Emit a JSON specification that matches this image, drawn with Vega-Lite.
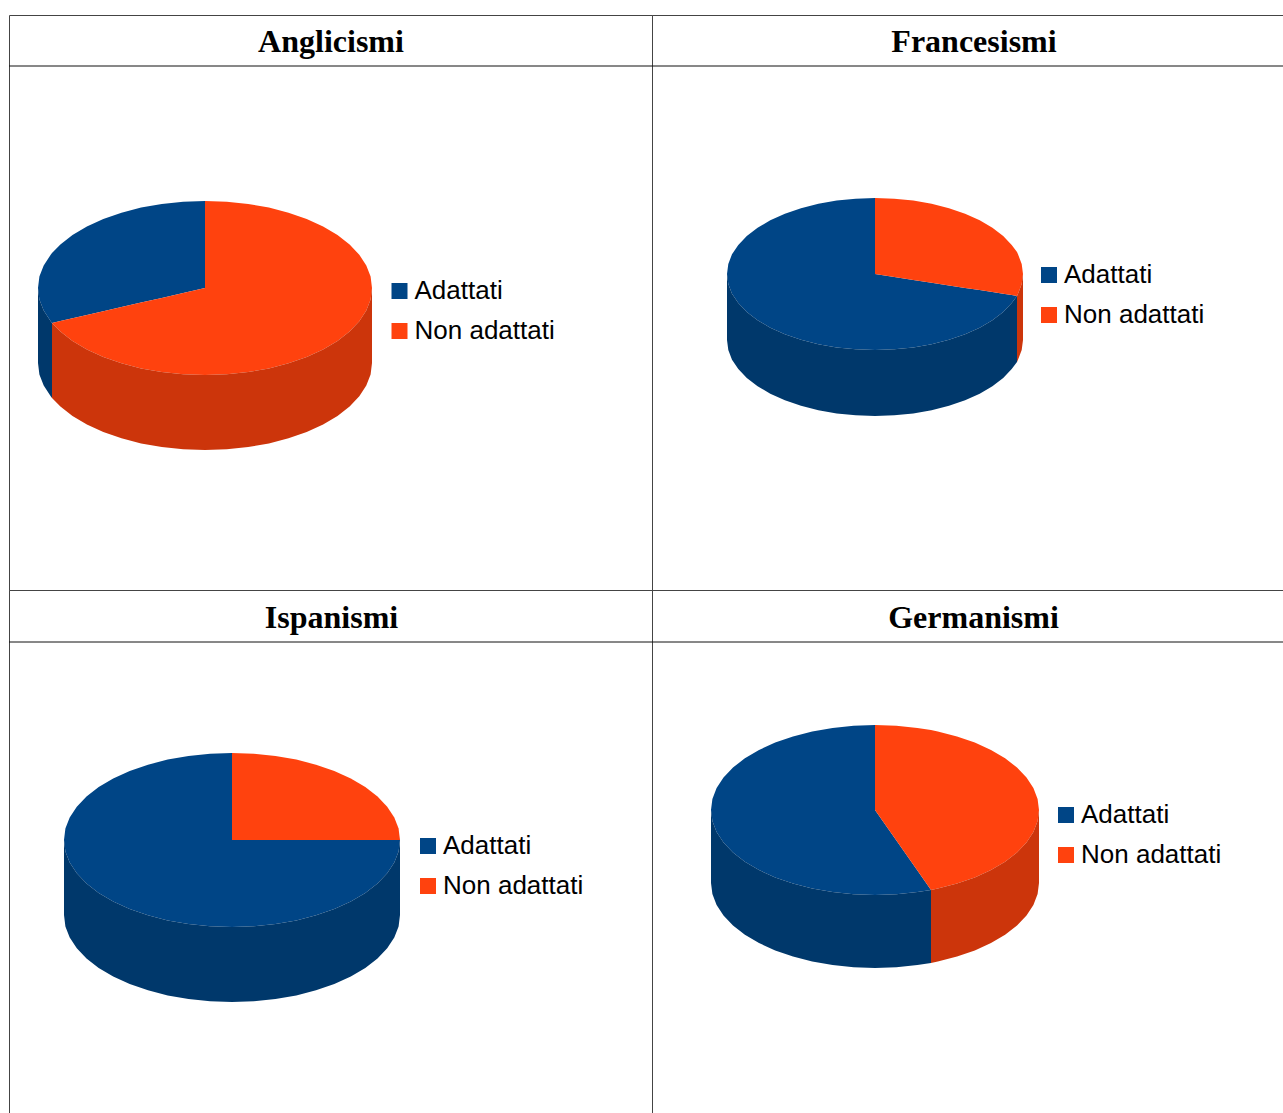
{
  "$schema": "https://vega.github.io/schema/vega-lite/v6.json",
  "padding": {"left": 8, "top": 14, "right": 0, "bottom": 0},
  "background": "white",
  "bounds": "flush",
  "columns": 2,
  "spacing": 0,
  "resolve": {"scale": {"color": "independent", "fill": "independent"}, "legend": {"color": "independent"}},
  "config": {
    "axis": {"disable": true},
    "view": {"stroke": "#444444", "strokeWidth": 1},
    "text": {"font": "Liberation Serif", "fontWeight": "bold", "fontSize": 32, "color": "#000000", "baseline": "middle", "align": "center"},
    "rule": {"color": "#111111", "strokeWidth": 1}
  },
  "datasets": {
    "anglicismi": [
      {"serie":"Adattati","x":-167,"alto":0,"basso":0,"fondo":-75},
      {"serie":"Adattati","x":-165.6,"alto":11.4,"basso":-11.4,"fondo":-86.4},
      {"serie":"Adattati","x":-161.3,"alto":22.5,"basso":-22.5,"fondo":-97.5},
      {"serie":"Adattati","x":-154.3,"alto":33.3,"basso":-33.3,"fondo":-108.3},
      {"serie":"Adattati","x":-153,"alto":34.9,"basso":-34.9,"fondo":-109.9},
      {"serie":"Adattati","x":-144.6,"alto":43.5,"basso":-33.0},
      {"serie":"Adattati","x":-132.5,"alto":53,"basso":-30.2},
      {"serie":"Adattati","x":-118.1,"alto":61.5,"basso":-26.9},
      {"serie":"Adattati","x":-101.7,"alto":69,"basso":-23.2},
      {"serie":"Adattati","x":-83.5,"alto":75.3,"basso":-19},
      {"serie":"Adattati","x":-63.9,"alto":80.4,"basso":-14.6},
      {"serie":"Adattati","x":-43.2,"alto":84,"basso":-9.9},
      {"serie":"Adattati","x":-21.8,"alto":86.3,"basso":-5},
      {"serie":"Adattati","x":0,"alto":87,"basso":0},
      {"serie":"Non adattati","x":-153,"alto":-34.9,"basso":-34.9,"fondo":-109.9},
      {"serie":"Non adattati","x":-144.6,"alto":-33,"basso":-43.5,"fondo":-118.5},
      {"serie":"Non adattati","x":-132.5,"alto":-30.2,"basso":-53,"fondo":-128},
      {"serie":"Non adattati","x":-118.1,"alto":-26.9,"basso":-61.5,"fondo":-136.5},
      {"serie":"Non adattati","x":-101.7,"alto":-23.2,"basso":-69,"fondo":-144},
      {"serie":"Non adattati","x":-83.5,"alto":-19,"basso":-75.3,"fondo":-150.3},
      {"serie":"Non adattati","x":-63.9,"alto":-14.6,"basso":-80.4,"fondo":-155.4},
      {"serie":"Non adattati","x":-43.2,"alto":-9.9,"basso":-84,"fondo":-159},
      {"serie":"Non adattati","x":-21.8,"alto":-5,"basso":-86.3,"fondo":-161.3},
      {"serie":"Non adattati","x":0,"alto":0,"basso":-87,"fondo":-162},
      {"serie":"Non adattati","x":0,"alto":87,"basso":-87,"fondo":-162},
      {"serie":"Non adattati","x":21.8,"alto":86.3,"basso":-86.3,"fondo":-161.3},
      {"serie":"Non adattati","x":43.2,"alto":84,"basso":-84,"fondo":-159},
      {"serie":"Non adattati","x":63.9,"alto":80.4,"basso":-80.4,"fondo":-155.4},
      {"serie":"Non adattati","x":83.5,"alto":75.3,"basso":-75.3,"fondo":-150.3},
      {"serie":"Non adattati","x":101.7,"alto":69,"basso":-69,"fondo":-144},
      {"serie":"Non adattati","x":118.1,"alto":61.5,"basso":-61.5,"fondo":-136.5},
      {"serie":"Non adattati","x":132.5,"alto":53,"basso":-53,"fondo":-128},
      {"serie":"Non adattati","x":144.6,"alto":43.5,"basso":-43.5,"fondo":-118.5},
      {"serie":"Non adattati","x":154.3,"alto":33.3,"basso":-33.3,"fondo":-108.3},
      {"serie":"Non adattati","x":161.3,"alto":22.5,"basso":-22.5,"fondo":-97.5},
      {"serie":"Non adattati","x":165.6,"alto":11.4,"basso":-11.4,"fondo":-86.4},
      {"serie":"Non adattati","x":167,"alto":0,"basso":0,"fondo":-75}
    ],
    "francesismi": [
      {"serie":"Adattati","x":-148,"alto":0,"basso":0,"fondo":-66},
      {"serie":"Adattati","x":-146.7,"alto":9.9,"basso":-9.9,"fondo":-75.9},
      {"serie":"Adattati","x":-143,"alto":19.7,"basso":-19.7,"fondo":-85.7},
      {"serie":"Adattati","x":-136.7,"alto":29.1,"basso":-29.1,"fondo":-95.1},
      {"serie":"Adattati","x":-128.2,"alto":38,"basso":-38,"fondo":-104},
      {"serie":"Adattati","x":-117.4,"alto":46.3,"basso":-46.3,"fondo":-112.3},
      {"serie":"Adattati","x":-104.7,"alto":53.7,"basso":-53.7,"fondo":-119.7},
      {"serie":"Adattati","x":-90.1,"alto":60.3,"basso":-60.3,"fondo":-126.3},
      {"serie":"Adattati","x":-74,"alto":65.8,"basso":-65.8,"fondo":-131.8},
      {"serie":"Adattati","x":-56.6,"alto":70.2,"basso":-70.2,"fondo":-136.2},
      {"serie":"Adattati","x":-38.3,"alto":73.4,"basso":-73.4,"fondo":-139.4},
      {"serie":"Adattati","x":-19.3,"alto":75.3,"basso":-75.3,"fondo":-141.3},
      {"serie":"Adattati","x":0,"alto":76,"basso":-76,"fondo":-142},
      {"serie":"Adattati","x":0,"alto":0,"basso":-76,"fondo":-142},
      {"serie":"Adattati","x":19.3,"alto":-3,"basso":-75.3,"fondo":-141.3},
      {"serie":"Adattati","x":38.3,"alto":-5.9,"basso":-73.4,"fondo":-139.4},
      {"serie":"Adattati","x":56.6,"alto":-8.7,"basso":-70.2,"fondo":-136.2},
      {"serie":"Adattati","x":74,"alto":-11.4,"basso":-65.8,"fondo":-131.8},
      {"serie":"Adattati","x":90.1,"alto":-13.9,"basso":-60.3,"fondo":-126.3},
      {"serie":"Adattati","x":104.7,"alto":-16.1,"basso":-53.7,"fondo":-119.7},
      {"serie":"Adattati","x":117.4,"alto":-18.1,"basso":-46.3,"fondo":-112.3},
      {"serie":"Adattati","x":128.2,"alto":-19.8,"basso":-38,"fondo":-104},
      {"serie":"Adattati","x":136.7,"alto":-21.1,"basso":-29.1,"fondo":-95.1},
      {"serie":"Adattati","x":142,"alto":-21.9,"basso":-21.9,"fondo":-87.9},
      {"serie":"Non adattati","x":0,"alto":76,"basso":0},
      {"serie":"Non adattati","x":19.3,"alto":75.3,"basso":-3},
      {"serie":"Non adattati","x":38.3,"alto":73.4,"basso":-5.9},
      {"serie":"Non adattati","x":56.6,"alto":70.2,"basso":-8.7},
      {"serie":"Non adattati","x":74,"alto":65.8,"basso":-11.4},
      {"serie":"Non adattati","x":90.1,"alto":60.3,"basso":-13.9},
      {"serie":"Non adattati","x":104.7,"alto":53.7,"basso":-16.1},
      {"serie":"Non adattati","x":117.4,"alto":46.3,"basso":-18.1},
      {"serie":"Non adattati","x":128.2,"alto":38,"basso":-19.8},
      {"serie":"Non adattati","x":136.7,"alto":29.1,"basso":-21.1},
      {"serie":"Non adattati","x":142,"alto":21.9,"basso":-21.9,"fondo":-87.9},
      {"serie":"Non adattati","x":143,"alto":19.7,"basso":-19.7,"fondo":-85.7},
      {"serie":"Non adattati","x":146.7,"alto":9.9,"basso":-9.9,"fondo":-75.9},
      {"serie":"Non adattati","x":148,"alto":0,"basso":0,"fondo":-66}
    ],
    "ispanismi": [
      {"serie":"Adattati","x":-168,"alto":0,"basso":0,"fondo":-75},
      {"serie":"Adattati","x":-166.6,"alto":11.4,"basso":-11.4,"fondo":-86.4},
      {"serie":"Adattati","x":-162.3,"alto":22.5,"basso":-22.5,"fondo":-97.5},
      {"serie":"Adattati","x":-155.2,"alto":33.3,"basso":-33.3,"fondo":-108.3},
      {"serie":"Adattati","x":-145.5,"alto":43.5,"basso":-43.5,"fondo":-118.5},
      {"serie":"Adattati","x":-133.3,"alto":53,"basso":-53,"fondo":-128},
      {"serie":"Adattati","x":-118.8,"alto":61.5,"basso":-61.5,"fondo":-136.5},
      {"serie":"Adattati","x":-102.3,"alto":69,"basso":-69,"fondo":-144},
      {"serie":"Adattati","x":-84,"alto":75.3,"basso":-75.3,"fondo":-150.3},
      {"serie":"Adattati","x":-64.3,"alto":80.4,"basso":-80.4,"fondo":-155.4},
      {"serie":"Adattati","x":-43.5,"alto":84,"basso":-84,"fondo":-159},
      {"serie":"Adattati","x":-21.9,"alto":86.3,"basso":-86.3,"fondo":-161.3},
      {"serie":"Adattati","x":0,"alto":87,"basso":-87,"fondo":-162},
      {"serie":"Adattati","x":0,"alto":0,"basso":-87,"fondo":-162},
      {"serie":"Adattati","x":21.9,"alto":0,"basso":-86.3,"fondo":-161.3},
      {"serie":"Adattati","x":43.5,"alto":0,"basso":-84,"fondo":-159},
      {"serie":"Adattati","x":64.3,"alto":0,"basso":-80.4,"fondo":-155.4},
      {"serie":"Adattati","x":84,"alto":0,"basso":-75.3,"fondo":-150.3},
      {"serie":"Adattati","x":102.3,"alto":0,"basso":-69,"fondo":-144},
      {"serie":"Adattati","x":118.8,"alto":0,"basso":-61.5,"fondo":-136.5},
      {"serie":"Adattati","x":133.3,"alto":0,"basso":-53,"fondo":-128},
      {"serie":"Adattati","x":145.5,"alto":0,"basso":-43.5,"fondo":-118.5},
      {"serie":"Adattati","x":155.2,"alto":0,"basso":-33.3,"fondo":-108.3},
      {"serie":"Adattati","x":162.3,"alto":0,"basso":-22.5,"fondo":-97.5},
      {"serie":"Adattati","x":166.6,"alto":0,"basso":-11.4,"fondo":-86.4},
      {"serie":"Adattati","x":168,"alto":0,"basso":0,"fondo":-75},
      {"serie":"Non adattati","x":0,"alto":87,"basso":0},
      {"serie":"Non adattati","x":21.9,"alto":86.3,"basso":0},
      {"serie":"Non adattati","x":43.5,"alto":84,"basso":0},
      {"serie":"Non adattati","x":64.3,"alto":80.4,"basso":0},
      {"serie":"Non adattati","x":84,"alto":75.3,"basso":0},
      {"serie":"Non adattati","x":102.3,"alto":69,"basso":0},
      {"serie":"Non adattati","x":118.8,"alto":61.5,"basso":0},
      {"serie":"Non adattati","x":133.3,"alto":53,"basso":0},
      {"serie":"Non adattati","x":145.5,"alto":43.5,"basso":0},
      {"serie":"Non adattati","x":155.2,"alto":33.3,"basso":0},
      {"serie":"Non adattati","x":162.3,"alto":22.5,"basso":0},
      {"serie":"Non adattati","x":166.6,"alto":11.4,"basso":0},
      {"serie":"Non adattati","x":168,"alto":0,"basso":0}
    ],
    "germanismi": [
      {"serie":"Adattati","x":-164,"alto":0,"basso":0,"fondo":-73},
      {"serie":"Adattati","x":-162.6,"alto":11.1,"basso":-11.1,"fondo":-84.1},
      {"serie":"Adattati","x":-158.4,"alto":22,"basso":-22,"fondo":-95},
      {"serie":"Adattati","x":-151.5,"alto":32.5,"basso":-32.5,"fondo":-105.5},
      {"serie":"Adattati","x":-142,"alto":42.5,"basso":-42.5,"fondo":-115.5},
      {"serie":"Adattati","x":-130.1,"alto":51.7,"basso":-51.7,"fondo":-124.7},
      {"serie":"Adattati","x":-116,"alto":60.1,"basso":-60.1,"fondo":-133.1},
      {"serie":"Adattati","x":-99.8,"alto":67.4,"basso":-67.4,"fondo":-140.4},
      {"serie":"Adattati","x":-82,"alto":73.6,"basso":-73.6,"fondo":-146.6},
      {"serie":"Adattati","x":-62.8,"alto":78.5,"basso":-78.5,"fondo":-151.5},
      {"serie":"Adattati","x":-42.4,"alto":82.1,"basso":-82.1,"fondo":-155.1},
      {"serie":"Adattati","x":-21.4,"alto":84.3,"basso":-84.3,"fondo":-157.3},
      {"serie":"Adattati","x":0,"alto":85,"basso":-85,"fondo":-158},
      {"serie":"Adattati","x":0,"alto":0,"basso":-85,"fondo":-158},
      {"serie":"Adattati","x":21.4,"alto":-30.5,"basso":-84.3,"fondo":-157.3},
      {"serie":"Adattati","x":42.4,"alto":-60.5,"basso":-82.1,"fondo":-155.1},
      {"serie":"Adattati","x":56,"alto":-79.9,"basso":-79.9,"fondo":-152.9},
      {"serie":"Non adattati","x":0,"alto":85,"basso":0},
      {"serie":"Non adattati","x":21.4,"alto":84.3,"basso":-30.5},
      {"serie":"Non adattati","x":42.4,"alto":82.1,"basso":-60.5},
      {"serie":"Non adattati","x":56,"alto":79.9,"basso":-79.9,"fondo":-152.9},
      {"serie":"Non adattati","x":62.8,"alto":78.5,"basso":-78.5,"fondo":-151.5},
      {"serie":"Non adattati","x":82,"alto":73.6,"basso":-73.6,"fondo":-146.6},
      {"serie":"Non adattati","x":99.8,"alto":67.4,"basso":-67.4,"fondo":-140.4},
      {"serie":"Non adattati","x":116,"alto":60.1,"basso":-60.1,"fondo":-133.1},
      {"serie":"Non adattati","x":130.1,"alto":51.7,"basso":-51.7,"fondo":-124.7},
      {"serie":"Non adattati","x":142,"alto":42.5,"basso":-42.5,"fondo":-115.5},
      {"serie":"Non adattati","x":151.5,"alto":32.5,"basso":-32.5,"fondo":-105.5},
      {"serie":"Non adattati","x":158.4,"alto":22,"basso":-22,"fondo":-95},
      {"serie":"Non adattati","x":162.6,"alto":11.1,"basso":-11.1,"fondo":-84.1},
      {"serie":"Non adattati","x":164,"alto":0,"basso":0,"fondo":-73}
    ]
  },
  "concat": [
    {
      "width": 643, "height": 575,
      "layer": [
        {
          "data": {"name": "anglicismi"},
          "mark": {"type": "area", "orient": "vertical"},
          "encoding": {
            "x": {"field": "x", "type": "quantitative", "scale": {"domain": [-196, 447]}},
            "y": {"field": "alto", "type": "quantitative", "stack": null, "scale": {"domain": [-302, 273]}},
            "y2": {"field": "basso"},
            "color": {"field": "serie", "type": "nominal", "title": null, "scale": {"domain": ["Adattati", "Non adattati"], "range": ["#004586", "#FF420E"]},
              "legend": {"orient": "none", "legendX": 377.5, "legendY": 263, "padding": 0, "symbolType": "square", "symbolSize": 256, "symbolStrokeWidth": 0, "labelFont": "Liberation Sans", "labelFontSize": 26, "labelColor": "#000000", "labelOffset": 2, "rowPadding": 14, "labelLimit": 300}}
          }
        },
        {
          "data": {"name": "anglicismi"},
          "transform": [{"filter": "datum.fondo != null"}],
          "mark": {"type": "area", "orient": "vertical"},
          "encoding": {
            "x": {"field": "x", "type": "quantitative", "scale": {"domain": [-196, 447]}},
            "y": {"field": "basso", "type": "quantitative", "stack": null, "scale": {"domain": [-302, 273]}},
            "y2": {"field": "fondo"},
            "fill": {"field": "serie", "type": "nominal", "legend": null, "scale": {"domain": ["Adattati", "Non adattati"], "range": ["#00386B", "#CC350B"]}}
          }
        },
        {
          "data": {"values": [{"xa": -196, "xb": 447, "riga": 222}]},
          "mark": "rule",
          "encoding": {
            "x": {"field": "xa", "type": "quantitative", "scale": {"domain": [-196, 447]}},
            "x2": {"field": "xb"},
            "y": {"field": "riga", "type": "quantitative", "scale": {"domain": [-302, 273]}}
          }
        },
        {
          "data": {"values": [{"titolo": "Anglicismi", "x": 126, "y": 246}]},
          "mark": "text",
          "encoding": {
            "x": {"field": "x", "type": "quantitative", "scale": {"domain": [-196, 447]}},
            "y": {"field": "y", "type": "quantitative", "scale": {"domain": [-302, 273]}},
            "text": {"field": "titolo"}
          }
        }
      ]
    },
    {
      "width": 631, "height": 575,
      "layer": [
        {
          "data": {"name": "francesismi"},
          "mark": {"type": "area", "orient": "vertical"},
          "encoding": {
            "x": {"field": "x", "type": "quantitative", "scale": {"domain": [-223, 408]}},
            "y": {"field": "alto", "type": "quantitative", "stack": null, "scale": {"domain": [-316, 259]}},
            "y2": {"field": "basso"},
            "color": {"field": "serie", "type": "nominal", "title": null, "scale": {"domain": ["Adattati", "Non adattati"], "range": ["#004586", "#FF420E"]},
              "legend": {"orient": "none", "legendX": 384, "legendY": 247, "padding": 0, "symbolType": "square", "symbolSize": 256, "symbolStrokeWidth": 0, "labelFont": "Liberation Sans", "labelFontSize": 26, "labelColor": "#000000", "labelOffset": 2, "rowPadding": 14, "labelLimit": 300}}
          }
        },
        {
          "data": {"name": "francesismi"},
          "transform": [{"filter": "datum.fondo != null"}],
          "mark": {"type": "area", "orient": "vertical"},
          "encoding": {
            "x": {"field": "x", "type": "quantitative", "scale": {"domain": [-223, 408]}},
            "y": {"field": "basso", "type": "quantitative", "stack": null, "scale": {"domain": [-316, 259]}},
            "y2": {"field": "fondo"},
            "fill": {"field": "serie", "type": "nominal", "legend": null, "scale": {"domain": ["Adattati", "Non adattati"], "range": ["#00386B", "#CC350B"]}}
          }
        },
        {
          "data": {"values": [{"xa": -223, "xb": 408, "riga": 208}]},
          "mark": "rule",
          "encoding": {
            "x": {"field": "xa", "type": "quantitative", "scale": {"domain": [-223, 408]}},
            "x2": {"field": "xb"},
            "y": {"field": "riga", "type": "quantitative", "scale": {"domain": [-316, 259]}}
          }
        },
        {
          "data": {"values": [{"titolo": "Francesismi", "x": 99, "y": 232}]},
          "mark": "text",
          "encoding": {
            "x": {"field": "x", "type": "quantitative", "scale": {"domain": [-223, 408]}},
            "y": {"field": "y", "type": "quantitative", "scale": {"domain": [-316, 259]}},
            "text": {"field": "titolo"}
          }
        }
      ]
    },
    {
      "width": 643, "height": 524,
      "layer": [
        {
          "data": {"name": "ispanismi"},
          "mark": {"type": "area", "orient": "vertical"},
          "encoding": {
            "x": {"field": "x", "type": "quantitative", "scale": {"domain": [-223, 420]}},
            "y": {"field": "alto", "type": "quantitative", "stack": null, "scale": {"domain": [-274, 250]}},
            "y2": {"field": "basso"},
            "color": {"field": "serie", "type": "nominal", "title": null, "scale": {"domain": ["Adattati", "Non adattati"], "range": ["#004586", "#FF420E"]},
              "legend": {"orient": "none", "legendX": 406, "legendY": 243, "padding": 0, "symbolType": "square", "symbolSize": 256, "symbolStrokeWidth": 0, "labelFont": "Liberation Sans", "labelFontSize": 26, "labelColor": "#000000", "labelOffset": 2, "rowPadding": 14, "labelLimit": 300}}
          }
        },
        {
          "data": {"name": "ispanismi"},
          "transform": [{"filter": "datum.fondo != null"}],
          "mark": {"type": "area", "orient": "vertical"},
          "encoding": {
            "x": {"field": "x", "type": "quantitative", "scale": {"domain": [-223, 420]}},
            "y": {"field": "basso", "type": "quantitative", "stack": null, "scale": {"domain": [-274, 250]}},
            "y2": {"field": "fondo"},
            "fill": {"field": "serie", "type": "nominal", "legend": null, "scale": {"domain": ["Adattati", "Non adattati"], "range": ["#00386B", "#CC350B"]}}
          }
        },
        {
          "data": {"values": [{"xa": -223, "xb": 420, "riga": 198}]},
          "mark": "rule",
          "encoding": {
            "x": {"field": "xa", "type": "quantitative", "scale": {"domain": [-223, 420]}},
            "x2": {"field": "xb"},
            "y": {"field": "riga", "type": "quantitative", "scale": {"domain": [-274, 250]}}
          }
        },
        {
          "data": {"values": [{"titolo": "Ispanismi", "x": 99.5, "y": 222}]},
          "mark": "text",
          "encoding": {
            "x": {"field": "x", "type": "quantitative", "scale": {"domain": [-223, 420]}},
            "y": {"field": "y", "type": "quantitative", "scale": {"domain": [-274, 250]}},
            "text": {"field": "titolo"}
          }
        }
      ]
    },
    {
      "width": 631, "height": 524,
      "layer": [
        {
          "data": {"name": "germanismi"},
          "mark": {"type": "area", "orient": "vertical"},
          "encoding": {
            "x": {"field": "x", "type": "quantitative", "scale": {"domain": [-223, 408]}},
            "y": {"field": "alto", "type": "quantitative", "stack": null, "scale": {"domain": [-304, 220]}},
            "y2": {"field": "basso"},
            "color": {"field": "serie", "type": "nominal", "title": null, "scale": {"domain": ["Adattati", "Non adattati"], "range": ["#004586", "#FF420E"]},
              "legend": {"orient": "none", "legendX": 401, "legendY": 212, "padding": 0, "symbolType": "square", "symbolSize": 256, "symbolStrokeWidth": 0, "labelFont": "Liberation Sans", "labelFontSize": 26, "labelColor": "#000000", "labelOffset": 2, "rowPadding": 14, "labelLimit": 300}}
          }
        },
        {
          "data": {"name": "germanismi"},
          "transform": [{"filter": "datum.fondo != null"}],
          "mark": {"type": "area", "orient": "vertical"},
          "encoding": {
            "x": {"field": "x", "type": "quantitative", "scale": {"domain": [-223, 408]}},
            "y": {"field": "basso", "type": "quantitative", "stack": null, "scale": {"domain": [-304, 220]}},
            "y2": {"field": "fondo"},
            "fill": {"field": "serie", "type": "nominal", "legend": null, "scale": {"domain": ["Adattati", "Non adattati"], "range": ["#00386B", "#CC350B"]}}
          }
        },
        {
          "data": {"values": [{"xa": -223, "xb": 408, "riga": 168}]},
          "mark": "rule",
          "encoding": {
            "x": {"field": "xa", "type": "quantitative", "scale": {"domain": [-223, 408]}},
            "x2": {"field": "xb"},
            "y": {"field": "riga", "type": "quantitative", "scale": {"domain": [-304, 220]}}
          }
        },
        {
          "data": {"values": [{"titolo": "Germanismi", "x": 98.5, "y": 192}]},
          "mark": "text",
          "encoding": {
            "x": {"field": "x", "type": "quantitative", "scale": {"domain": [-223, 408]}},
            "y": {"field": "y", "type": "quantitative", "scale": {"domain": [-304, 220]}},
            "text": {"field": "titolo"}
          }
        }
      ]
    }
  ]
}
